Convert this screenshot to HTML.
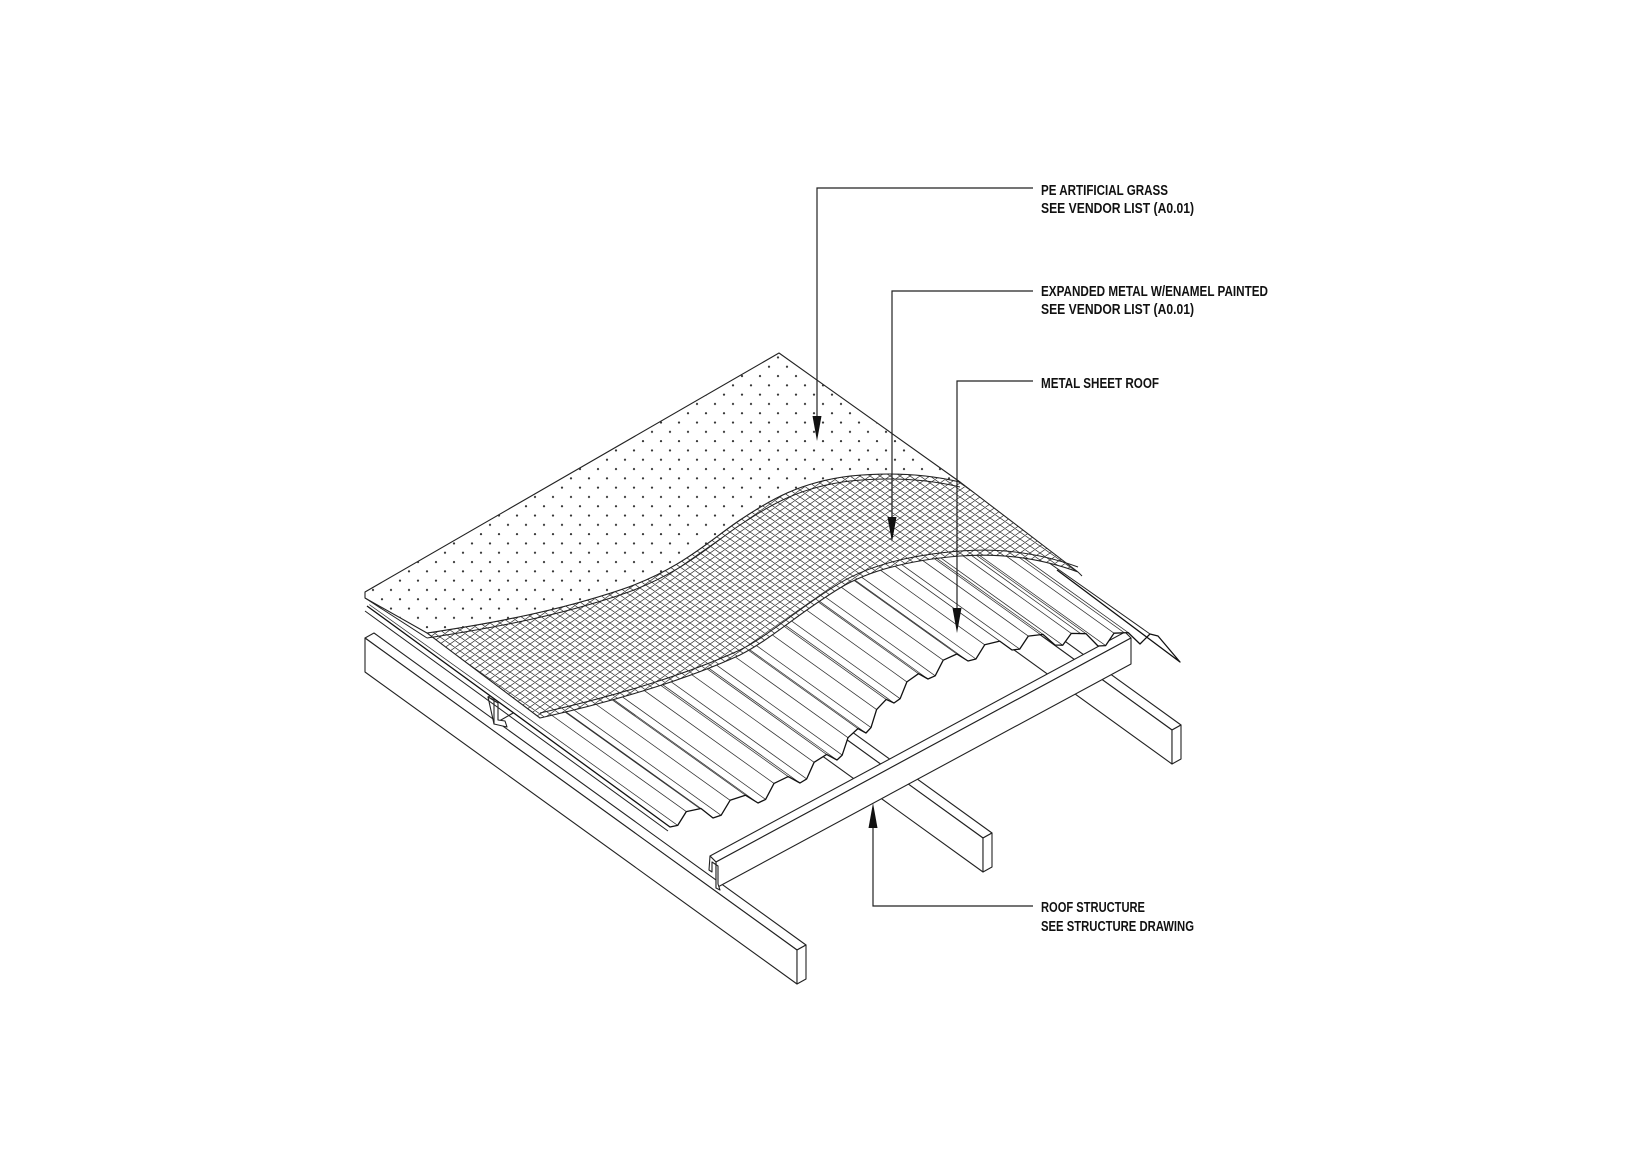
<!DOCTYPE html>
<html><head><meta charset="utf-8"><style>
html,body{margin:0;padding:0;background:#fff;}
svg{display:block;}
text{font-family:"Liberation Sans",sans-serif;font-size:14.5px;font-weight:bold;fill:#111;}
</style></head><body>
<svg width="1650" height="1166" viewBox="0 0 1650 1166" xmlns="http://www.w3.org/2000/svg">
<defs>
<pattern id="dots" patternUnits="userSpaceOnUse" width="18" height="18.6">
<circle cx="4" cy="4" r="1.1" fill="#333"/>
<circle cx="13" cy="13.3" r="1.1" fill="#333"/>
</pattern>
<pattern id="mesh" patternUnits="userSpaceOnUse" width="10" height="7">
<path d="M0,0 L10,7 M0,7 L10,0 M-1,6.3 L1,7.7 M9,-0.7 L11,0.7 M-1,0.7 L1,-0.7 M9,7.7 L11,6.3" stroke="#222" stroke-width="0.7" fill="none"/>
</pattern>
<clipPath id="sheetClip"><path d="M367,606 L670,827 L677.7,825.4 686.3,811.6 701,808.5 713,818 721.1,815.3 730.1,800.3 745.4,795.2 758,803 765.6,799.4 774,783.4 788.2,776.6 800,783 806.7,778.9 814.1,762.3 826.6,754.4 837,760 842.2,755.1 848,737.7 857.9,728.6 866,733 871,727.6 876.6,709.6 886.2,699.4 894,703 900.1,698.7 906.9,681.9 918.5,673.7 928,679 935.2,675.8 943.2,660.2 956.8,654 968,661 975.9,659 984.7,644.8 999.7,641.1 1012,650 1019.7,649.1 1028.3,636.1 1043,634.4 1055,645 1062.7,645.2 1071.3,633.4 1086,633.7 1098,646 1105.6,645.6 1114,633.2 1128.2,632.6 1140,644 1150,634 1158,636 1180,662 L1057,570 L900,455 L780,360 Z"/></clipPath>
</defs>

<g stroke="#222" stroke-width="1.1" fill="#fff" stroke-linejoin="round">
<polygon points="900,533.6 909,528.6 1181,725 1172,730"/>
<polygon points="900,533.6 1172,730 1172,764 900,567.6"/>
<polygon points="1172,730 1181,725 1181,759 1172,764"/>
<polygon points="683,621.4 692,616.4 992,833 983,838"/>
<polygon points="683,621.4 983,838 983,872 683,655.4"/>
<polygon points="983,838 992,833 992,867 983,872"/>
<polygon points="365,638 374,633 806,945 797,950"/>
<polygon points="365,638 797,950 797,984 365,672"/>
<polygon points="797,950 806,945 806,979 797,984"/>
<polygon points="488,697 560,658 560,686 494,724"/>
<path d="M488,697 L494,700 L494,724 L507,727 L505,721 L498,720 L498,703 Z" fill="#fff"/>
<polygon points="710,856 1125,632 1131,638 716,862"/>
<polygon points="716,862 1131,638 1131,664 716,888"/>
<path d="M710,856 L716,862 L716,888 L720,890 L718,884 L718,866 L712,862 L712,872 L709,870 Z" fill="#fff"/>
</g>

<g clip-path="url(#sheetClip)">
<rect x="300" y="300" width="1000" height="600" fill="#fff"/>
<path stroke="#333" stroke-width="0.75" fill="none" d="M670,827 l-500,-358 M677.7,825.4 l-500,-358 M686.3,811.6 l-500,-358 M701,808.5 l-500,-358 M713,818 l-500,-358 M721.1,815.3 l-500,-358 M730.1,800.3 l-500,-358 M745.4,795.2 l-500,-358 M758,803 l-500,-358 M765.6,799.4 l-500,-358 M774,783.4 l-500,-358 M788.2,776.6 l-500,-358 M800,783 l-500,-358 M806.7,778.9 l-500,-358 M814.1,762.3 l-500,-358 M826.6,754.4 l-500,-358 M837,760 l-500,-358 M842.2,755.1 l-500,-358 M848,737.7 l-500,-358 M857.9,728.6 l-500,-358 M866,733 l-500,-358 M871,727.6 l-500,-358 M876.6,709.6 l-500,-358 M886.2,699.4 l-500,-358 M894,703 l-500,-358 M900.1,698.7 l-500,-358 M906.9,681.9 l-500,-358 M918.5,673.7 l-500,-358 M928,679 l-500,-358 M935.2,675.8 l-500,-358 M943.2,660.2 l-500,-358 M956.8,654 l-500,-358 M968,661 l-500,-358 M975.9,659 l-500,-358 M984.7,644.8 l-500,-358 M999.7,641.1 l-500,-358 M1012,650 l-500,-358 M1019.7,649.1 l-500,-358 M1028.3,636.1 l-500,-358 M1043,634.4 l-500,-358 M1055,645 l-500,-358 M1062.7,645.2 l-500,-358 M1071.3,633.4 l-500,-358 M1086,633.7 l-500,-358 M1098,646 l-500,-358 M1105.6,645.6 l-500,-358 M1114,633.2 l-500,-358 M1128.2,632.6 l-500,-358 M1140,644 l-500,-358 M1150,634 l-500,-358 M1158,636 l-500,-358"/>
</g>
<path fill="none" stroke="#111" stroke-width="1.3" stroke-linejoin="round" d="M367,606 L670,827 L677.7,825.4 686.3,811.6 701,808.5 713,818 721.1,815.3 730.1,800.3 745.4,795.2 758,803 765.6,799.4 774,783.4 788.2,776.6 800,783 806.7,778.9 814.1,762.3 826.6,754.4 837,760 842.2,755.1 848,737.7 857.9,728.6 866,733 871,727.6 876.6,709.6 886.2,699.4 894,703 900.1,698.7 906.9,681.9 918.5,673.7 928,679 935.2,675.8 943.2,660.2 956.8,654 968,661 975.9,659 984.7,644.8 999.7,641.1 1012,650 1019.7,649.1 1028.3,636.1 1043,634.4 1055,645 1062.7,645.2 1071.3,633.4 1086,633.7 1098,646 1105.6,645.6 1114,633.2 1128.2,632.6 1140,644 1150,634 1158,636 1180,662 L1057,570"/>
<path fill="none" stroke="#222" stroke-width="1" d="M365,611 L668,831 M1150,634 L1045,560"/>

<path fill="#fff" stroke="none" d="M427,633 C500,622 560,610 620,590 C680,570 710,540 740,520 C770,500 800,482 850,476 C900,471 935,476 960,482 L1078,572 C1040,558 1000,553 960,556 C910,560 870,570 840,588 C800,612 770,640 740,655 C690,678 620,700 540,718 Z"/>
<path fill="url(#mesh)" stroke="#222" stroke-width="1.1" d="M427,633 C500,622 560,610 620,590 C680,570 710,540 740,520 C770,500 800,482 850,476 C900,471 935,476 960,482 L1078,572 C1040,558 1000,553 960,556 C910,560 870,570 840,588 C800,612 770,640 740,655 C690,678 620,700 540,718 Z"/>
<path fill="none" stroke="#222" stroke-width="1" d="M1078,572 L1082,576 M1078,567 C1040,553 1000,548 960,551 C910,555 870,565 840,583 C800,607 770,635 740,650 C690,673 620,695 540,713"/>

<path fill="#fff" stroke="#222" stroke-width="1.1" stroke-linejoin="round" d="M779,353 L960,482 C935,476 900,471 850,476 C800,482 770,500 740,520 C710,540 680,570 620,590 C560,610 500,622 427,633 L365,598 L365,592 Z"/>
<path fill="url(#dots)" stroke="none" d="M779,353 L960,482 C935,476 900,471 850,476 C800,482 770,500 740,520 C710,540 680,570 620,590 C560,610 500,622 427,633 L365,598 L365,592 Z"/>
<path fill="none" stroke="#222" stroke-width="1" d="M960,487 C935,481 900,476 850,481 C800,487 770,505 740,525 C710,545 680,575 620,595 C560,615 500,627 427,638 M365,598 L427,638"/>

<g stroke="#222" stroke-width="1.2" fill="none">
<path d="M1033,188 L817,188 L817,420"/>
<path d="M1033,291 L892,291 L892,520"/>
<path d="M1033,381 L957,381 L957,612"/>
<path d="M1033,906 L873,906 L873,825"/>
</g>
<g fill="#111">
<polygon points="812.5,416 821.5,416 817,441"/>
<polygon points="887.5,517 896.5,517 892,542"/>
<polygon points="952.5,608 961.5,608 957,633"/>
<polygon points="868.5,828 877.5,828 873,803"/>
</g>

<text x="1041" y="195" textLength="127" lengthAdjust="spacingAndGlyphs">PE ARTIFICIAL GRASS</text>
<text x="1041" y="213" textLength="153" lengthAdjust="spacingAndGlyphs">SEE VENDOR LIST (A0.01)</text>
<text x="1041" y="296" textLength="227" lengthAdjust="spacingAndGlyphs">EXPANDED METAL W/ENAMEL PAINTED</text>
<text x="1041" y="314" textLength="153" lengthAdjust="spacingAndGlyphs">SEE VENDOR LIST (A0.01)</text>
<text x="1041" y="388" textLength="118" lengthAdjust="spacingAndGlyphs">METAL SHEET ROOF</text>
<text x="1041" y="912" textLength="104" lengthAdjust="spacingAndGlyphs">ROOF STRUCTURE</text>
<text x="1041" y="931" textLength="153" lengthAdjust="spacingAndGlyphs">SEE STRUCTURE DRAWING</text>
</svg>
</body></html>
